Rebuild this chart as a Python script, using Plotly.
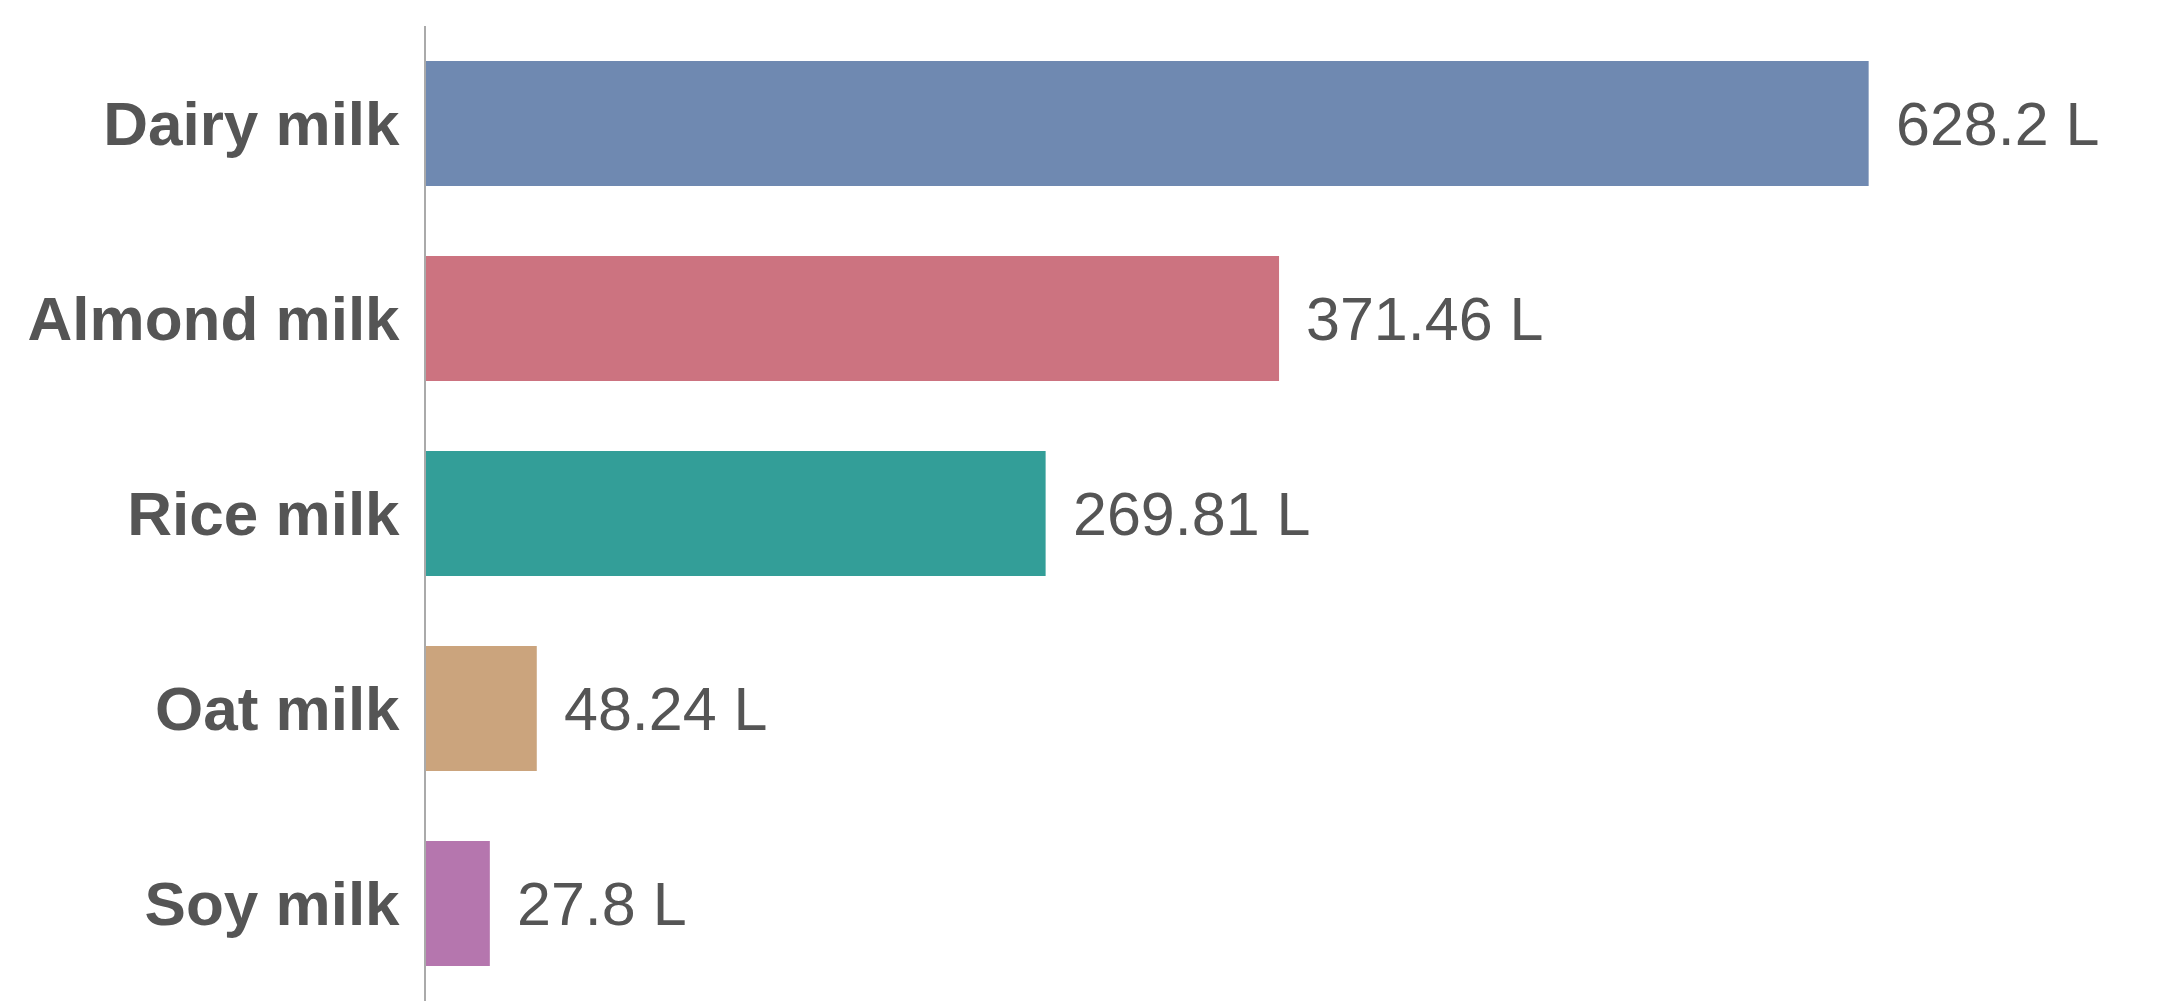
import plotly.graph_objects as go

categories = ["Dairy milk", "Almond milk", "Rice milk", "Oat milk", "Soy milk"]
values = [628.2, 371.46, 269.81, 48.24, 27.8]
labels = ["628.2 L", "371.46 L", "269.81 L", "48.24 L", "27.8 L"]
colors = ["#6F89B1", "#CC7380", "#339E98", "#CBA47D", "#B576AE"]

fig = go.Figure()
fig.add_trace(go.Bar(
    y=categories, x=values, orientation="h",
    marker=dict(color=colors, line=dict(width=0)),
    hoverinfo="skip",
))
for c, v, t in zip(categories, values, labels):
    fig.add_annotation(x=v, y=c, text=t, showarrow=False, xanchor="left",
                       xshift=25, yshift=0,
                       font=dict(family="Liberation Sans, Arial, sans-serif", size=61, color="#555555"))

fig.update_layout(
    width=2184, height=1002,
    margin=dict(l=418, r=0, t=18, b=9),
    plot_bgcolor="white", paper_bgcolor="white",
    bargap=0.36, showlegend=False,
)
fig.update_xaxes(range=[0, 769], visible=False, showgrid=False, zeroline=False)
fig.update_yaxes(autorange="reversed", showgrid=False, zeroline=False,
                 showline=True, linecolor="#AAAAAA", linewidth=2,
                 ticks="", ticklabelstandoff=12,
                 tickfont=dict(family="Liberation Sans, Arial, sans-serif", size=62, color="#555555", weight="bold"))

fig.write_html("out.html")
